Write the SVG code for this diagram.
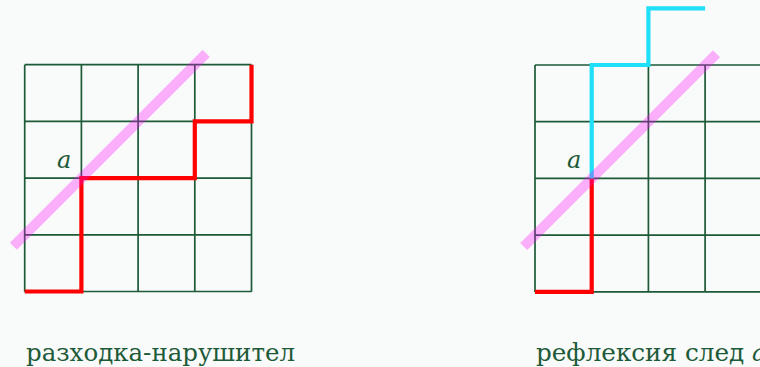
<svg xmlns="http://www.w3.org/2000/svg" width="760" height="367" viewBox="0 0 760 367">
<style>
.grid{stroke:#1d5a38;stroke-width:1.7;fill:none}
.red{stroke:#ff0000;stroke-width:4.2;fill:none;stroke-linejoin:miter;stroke-linecap:butt}
.cyan{stroke:#1fe0f8;stroke-width:4.2;fill:none;stroke-linejoin:miter}
.diag{stroke:#ff00ff;stroke-opacity:0.3;stroke-width:10;fill:none}
.lbl{font-family:"DejaVu Serif",serif;font-style:italic;font-size:24px;fill:#1d5a38}
.cap{font-family:"DejaVu Serif",serif;font-size:24px;fill:#1d5a38}
</style>
<rect width="760" height="367" fill="#f9fbfa"/>
<g id="left-grid">
<path class="grid" d="M24.7 64.7V291.7M81.4 64.7V291.7M138.1 64.7V291.7M194.8 64.7V291.7M251.5 64.7V291.7M24.7 64.7H251.5M24.7 121.4H251.5M24.7 178.1H251.5M24.7 234.8H251.5M24.7 291.5H251.5"/>
</g>
<g id="right-grid">
<path class="grid" d="M535 65V292.3M591.7 65V292.3M648.4 65V292.3M705.1 65V292.3M761.8 65V292.3M535 65H770M535 121.7H770M535 178.4H770M535 235.1H770M535 291.8H770"/>
</g>
<g id="connectors">
<path class="red" d="M24.7 291.5H81.4V178.1H194.8V121.4H251.5V64.7"/>
<line class="diag" x1="13.4" y1="246.2" x2="206.2" y2="53.4"/>
<path class="red" d="M535 291.8H591.7V178.4"/>
<path class="cyan" d="M591.7 178.4V65H648.4V8.3H705.1"/>
<line class="diag" x1="523.7" y1="246.5" x2="716.5" y2="53.7"/>
</g>
<g id="labels">
<text class="lbl" x="57" y="168">a</text>
<text class="lbl" x="567" y="168">a</text>
<text class="cap" x="26" y="361" textLength="269" lengthAdjust="spacingAndGlyphs">разходка-нарушител</text>
<text class="cap" x="536" y="361"><tspan textLength="216" lengthAdjust="spacingAndGlyphs">рефлексия след </tspan><tspan x="752" font-style="italic">a</tspan></text>
</g>
</svg>
